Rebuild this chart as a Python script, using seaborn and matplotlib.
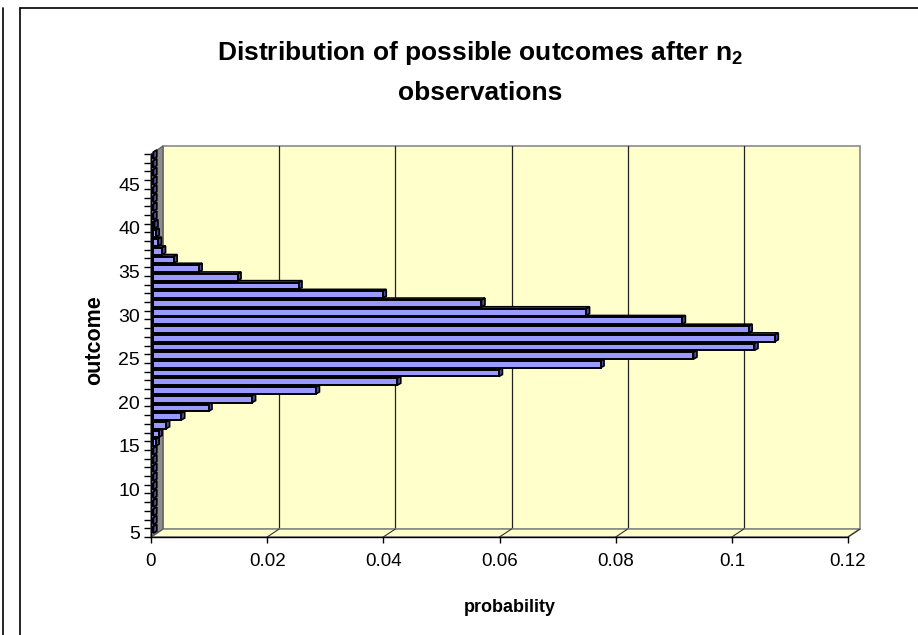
import numpy as np
import pandas as pd
import matplotlib
matplotlib.use("Agg")
import matplotlib.pyplot as plt
from matplotlib.patches import Polygon
from matplotlib.lines import Line2D
import seaborn as sns

# ---- data ----
outcomes = list(range(5, 49))
probs_nonzero = {
    15: 0.0004, 16: 0.0009, 17: 0.0022, 18: 0.0048, 19: 0.0095, 20: 0.017,
    21: 0.028, 22: 0.042, 23: 0.0595, 24: 0.077, 25: 0.093, 26: 0.1035,
    27: 0.107, 28: 0.1025, 29: 0.091, 30: 0.0745, 31: 0.0565, 32: 0.0395,
    33: 0.025, 34: 0.0145, 35: 0.0078, 36: 0.0035, 37: 0.0015, 38: 0.0008,
    39: 0.0004, 40: 0.0002,
}
probability = [probs_nonzero.get(o, 0.0) for o in outcomes]
x_ticks = [0, 0.02, 0.04, 0.06, 0.08, 0.1, 0.12]
x_tick_labels = ["0", "0.02", "0.04", "0.06", "0.08", "0.1", "0.12"]
y_tick_values = [5, 10, 15, 20, 25, 30, 35, 40, 45]

df = pd.DataFrame({"outcome": outcomes, "probability": probability})

sns.set_theme(style="white")
plt.rcParams["font.family"] = ["Liberation Sans", "DejaVu Sans"]
plt.rcParams["text.color"] = "black"
plt.rcParams["axes.labelcolor"] = "black"
plt.rcParams["xtick.color"] = "black"
plt.rcParams["ytick.color"] = "black"
plt.rcParams["mathtext.fontset"] = "custom"
plt.rcParams["mathtext.rm"] = "Liberation Sans:bold"
plt.rcParams["mathtext.bf"] = "Liberation Sans:bold"

W, H = 918, 635
fig = plt.figure(figsize=(W / 100, H / 100), dpi=100)
fig.patch.set_facecolor("white")

# front plane of the plot in pixels
L, R, T, B = 151, 848, 154, 537
ax = fig.add_axes([L / W, (H - B) / H, (R - L) / W, (B - T) / H])
ax.set_facecolor("none")

XMAX = 0.12
Y0, Y1 = 4.5, 48.5
pxx = (R - L) / XMAX          # px per x unit
pxy = (B - T) / (Y1 - Y0)     # px per y unit
DX = 12 / pxx                 # wall depth offset
DY = 8 / pxy

ax.set_xlim(0, XMAX)
ax.set_ylim(Y0, Y1)

# back wall, floor, side wall
wall = Polygon([(DX, Y0 + DY), (XMAX + DX, Y0 + DY), (XMAX + DX, Y1 + DY), (DX, Y1 + DY)],
               closed=True, facecolor="#FFFFCC", edgecolor="#8a8a8a", lw=1.2,
               zorder=0.5, clip_on=False)
ax.add_patch(wall)
floor = Polygon([(0, Y0), (XMAX, Y0), (XMAX + DX, Y0 + DY), (DX, Y0 + DY)],
                closed=True, facecolor="#FFFFCC", edgecolor="#8a8a8a", lw=1.2,
                zorder=0.7, clip_on=False)
ax.add_patch(floor)
side = Polygon([(0, Y0), (DX, Y0 + DY), (DX, Y1 + DY), (0, Y1)],
               closed=True, facecolor="#8c8c8c", edgecolor="#555555", lw=0.8,
               zorder=0.8, clip_on=False)
ax.add_patch(side)

for xv in x_ticks[1:-1]:
    ax.add_line(Line2D([xv + DX, xv + DX], [Y0 + DY, Y1 + DY], color="#222222",
                       lw=0.9, zorder=0.6, clip_on=False))
for xv in x_ticks[1:]:
    ax.add_line(Line2D([xv, xv + DX], [Y0, Y0 + DY], color="#333333",
                       lw=0.8, zorder=0.75, clip_on=False))

# bars via seaborn
sns.barplot(data=df, x="probability", y="outcome", orient="h", native_scale=True,
            color="#9999FF", saturation=1, edgecolor="black", linewidth=1.4,
            width=0.78, ax=ax, zorder=3)
ax.set_xlim(0, XMAX)
ax.set_ylim(Y0, Y1)

BDX = 3.5 / pxx
BDY = 2.0 / pxy
XOFF = 0.0004
YOFF = 0.33
for p in list(ax.patches):
    if p in (wall, floor, side):
        continue
    p.set_x(p.get_x() + XOFF)
    p.set_y(p.get_y() + YOFF)
    p.set_zorder(3)
    x0, y0 = p.get_x(), p.get_y()
    w, h = p.get_width(), p.get_height()
    top = Polygon([(x0, y0 + h), (x0 + w, y0 + h), (x0 + w + BDX, y0 + h + BDY),
                   (x0 + BDX, y0 + h + BDY)], closed=True, facecolor="#8080E6",
                  edgecolor="black", lw=1.2, zorder=2.9, clip_on=False)
    rside = Polygon([(x0 + w, y0), (x0 + w + BDX, y0 + BDY), (x0 + w + BDX, y0 + h + BDY),
                     (x0 + w, y0 + h)], closed=True, facecolor="#4d4d99",
                    edgecolor="black", lw=1.2, zorder=2.95, clip_on=False)
    ax.add_patch(top)
    ax.add_patch(rside)

# axes
for s in ["top", "right"]:
    ax.spines[s].set_visible(False)
for s in ["left", "bottom"]:
    ax.spines[s].set_visible(True)
    ax.spines[s].set_color("black")
    ax.spines[s].set_linewidth(1.0)
    ax.spines[s].set_zorder(5)

ax.set_xticks(x_ticks)
ax.set_xticklabels(x_tick_labels)
ax.set_yticks(y_tick_values)
ax.set_yticklabels([str(v) for v in y_tick_values])
ax.set_yticks(np.arange(Y0, Y1 + 0.01, 1.0), minor=True)
ax.tick_params(axis="x", which="major", direction="out", length=4.5, width=1,
               color="black", labelsize=13.5, pad=7, bottom=True)
ax.tick_params(axis="y", which="major", length=0, labelsize=14, pad=8, left=True)
ax.tick_params(axis="y", which="minor", direction="out", length=5, width=1,
               color="black", left=True)
ax.grid(False)

ax.set_xlabel("probability", fontsize=13, fontweight="bold")
ax.xaxis.set_label_coords((510 - L) / (R - L), -(607 - B) / (B - T))
ax.xaxis.label.set_va("center")
ax.set_ylabel("outcome", fontsize=15.5, fontweight="bold")
ax.yaxis.set_label_coords((95 - L) / (R - L), (B - 340) / (B - T))
ax.yaxis.label.set_va("center")

fig.text(480 / W, 1 - 53 / H, "Distribution of possible outcomes after n$_{2}$",
         ha="center", va="center", fontsize=19, fontweight="bold")
fig.text(480 / W, 1 - 93 / H, "observations",
         ha="center", va="center", fontsize=19, fontweight="bold")

# chart borders
fig.add_artist(Line2D([20 / W, 20 / W], [0, 1 - 8 / H], color="black", lw=1.2))
fig.add_artist(Line2D([20 / W, 1], [1 - 8 / H, 1 - 8 / H], color="black", lw=1.2))
fig.add_artist(Line2D([3 / W, 3 / W], [0, 1 - 8 / H], color="black", lw=1.2))

fig.savefig("out.png", dpi=100)
